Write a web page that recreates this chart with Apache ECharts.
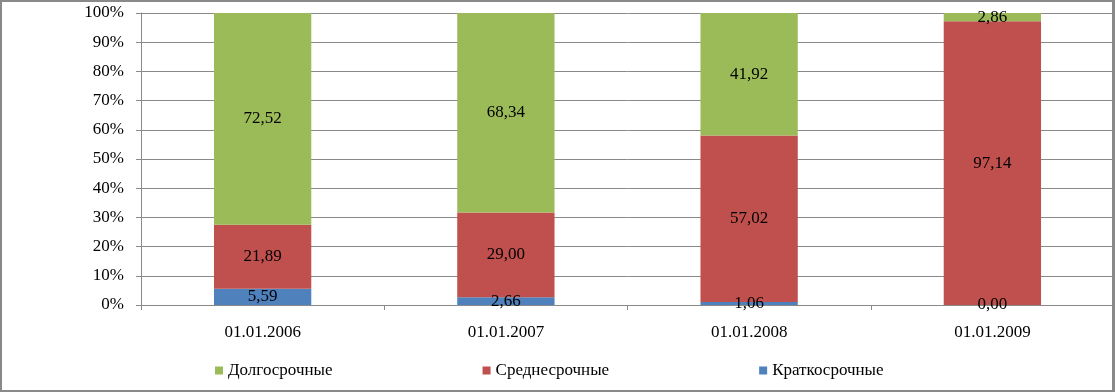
<!DOCTYPE html>
<html>
<head>
<meta charset="utf-8">
<script src="https://cdn.jsdelivr.net/npm/echarts@6/dist/echarts.min.js"></script>
<style>
html,body{margin:0;padding:0;background:#fff;}
#wrap{width:1115px;height:392px;box-sizing:border-box;position:relative;overflow:hidden;}
#chart{position:absolute;left:0;top:0;width:1115px;height:392px;}
#frame{position:absolute;left:0;top:0;width:1115px;height:392px;box-sizing:border-box;border-style:solid;border-color:#898989;border-width:2px 3px 2px 2px;pointer-events:none;}
</style>
</head>
<body>
<div id="wrap"><div id="chart"></div><div id="frame"></div></div>
<script>
const categories = ['01.01.2006', '01.01.2007', '01.01.2008', '01.01.2009'];
const shortTerm = [5.59, 2.66, 1.06, 0.00];   // Краткосрочные
const midTerm = [21.89, 29.00, 57.02, 97.14]; // Среднесрочные
const longTerm = [72.52, 68.34, 41.92, 2.86]; // Долгосрочные
const yTicks = [0, 10, 20, 30, 40, 50, 60, 70, 80, 90, 100];

const font = '"Liberation Serif", "Times New Roman", serif';
const fs = 17;
const fmt = p => p.value.toFixed(2).replace('.', ',');
const lbl = {show: true, position: 'inside', formatter: fmt, color: '#000', fontFamily: font, fontSize: fs};

const chart = echarts.init(document.getElementById('chart'));
chart.setOption({
  animation: false,
  grid: {left: 141, right: 1, top: 13, bottom: 87},
  legend: {
    data: ['Долгосрочные', 'Среднесрочные', 'Краткосрочные'],
    left: 210, top: 357, icon: 'rect', itemWidth: 8, itemHeight: 8, itemGap: 150,
    textStyle: {fontFamily: font, fontSize: fs, color: '#000'}
  },
  xAxis: {
    type: 'category', data: categories,
    axisLine: {lineStyle: {color: '#898989', width: 1}},
    axisTick: {show: true, length: 5, lineStyle: {color: '#898989'}},
    axisLabel: {fontFamily: font, fontSize: fs, color: '#000', margin: 19}
  },
  yAxis: {
    type: 'value', min: 0, max: 100, interval: 10,
    axisLine: {show: true, lineStyle: {color: '#898989'}},
    axisTick: {show: true, length: 5, lineStyle: {color: '#898989'}},
    splitLine: {lineStyle: {color: '#898989'}},
    axisLabel: {fontFamily: font, fontSize: fs, color: '#000', margin: 17,
      formatter: v => yTicks.includes(v) ? v + '%' : ''}
  },
  series: [
    {name: 'Краткосрочные', type: 'bar', stack: 's', data: shortTerm, barWidth: '40%',
      itemStyle: {color: '#4F81BD'}, label: lbl},
    {name: 'Среднесрочные', type: 'bar', stack: 's', data: midTerm,
      itemStyle: {color: '#C0504D'}, label: lbl},
    {name: 'Долгосрочные', type: 'bar', stack: 's', data: longTerm,
      itemStyle: {color: '#9BBB59'}, label: lbl}
  ]
});
</script>
</body>
</html>
